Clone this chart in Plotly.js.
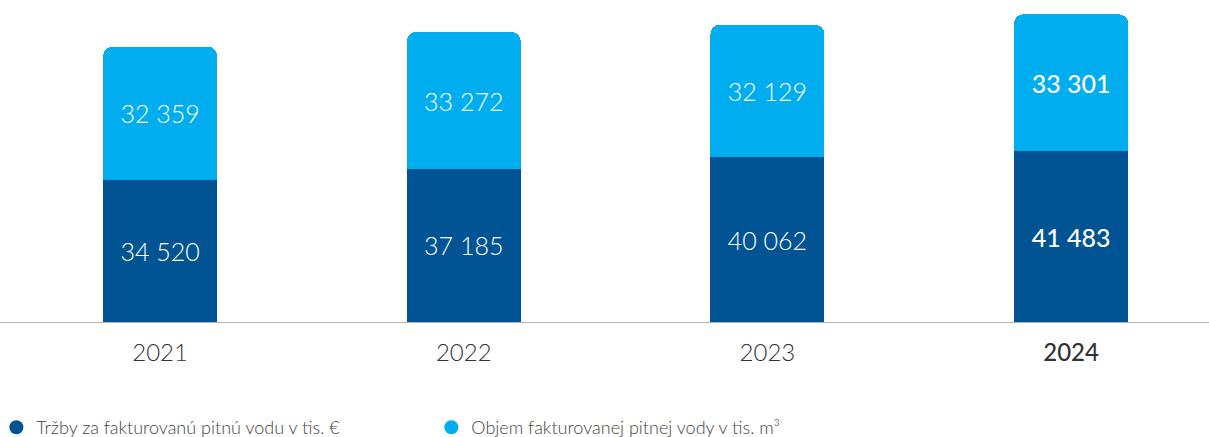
<!DOCTYPE html>
<html><head><meta charset="utf-8">
<script src="https://cdn.plot.ly/plotly-3.0.1.min.js"></script>
<style>html,body{margin:0;padding:0;background:#fff;}#chart{width:1209px;height:437px;}</style>
</head><body><div id="chart"></div>
<script>
const years = ["2021", "2022", "2023", "2024"];
const tickLabels = ["2021", "2022", "2023", "<span style='font-weight:500'>2024</span>"];
const revenue = [34520, 37185, 40062, 41483];      // Tržby za fakturovanú pitnú vodu v tis. €
const volume = [32359, 33272, 32129, 33301];       // Objem fakturovanej pitnej vody v tis. m³
const seriesNames = ["Tržby za fakturovanú pitnú vodu v tis. €", "Objem fakturovanej pitnej vody v tis. m³"];
const colors = ["#005494", "#00AEEF"];

const fmt = v => String(v).replace(/\B(?=(\d{3})+(?!\d))/g, " ");
const labelText = arr => arr.map((v, i) => i === arr.length - 1 ? "<span style='font-weight:500'>" + fmt(v) + "</span>" : fmt(v));
const xIdx = years.map((_, i) => i);
const FONT = "Lato, sans-serif";

const traces = [
  {type: "bar", x: xIdx, y: revenue, marker: {color: colors[0]}, width: 0.375,
   text: labelText(revenue), textposition: "inside", insidetextanchor: "middle",
   textfont: {color: "#ffffff", size: 25, family: FONT, weight: 300}, textangle: 0,
   hoverinfo: "skip", showlegend: false},
  {type: "bar", x: xIdx, y: volume, marker: {color: colors[1]}, width: 0.375,
   text: labelText(volume), textposition: "inside", insidetextanchor: "middle",
   textfont: {color: "#ffffff", size: 25, family: FONT, weight: 300}, textangle: 0,
   hoverinfo: "skip", showlegend: false},
  {type: "scatter", mode: "markers", x: [null], y: [null], name: seriesNames[0],
   marker: {color: colors[0], size: 14, symbol: "circle"}},
  {type: "scatter", mode: "markers", x: [null], y: [null], name: seriesNames[1],
   marker: {color: colors[1], size: 14, symbol: "circle"}}
];

const layout = {
  width: 1209, height: 437,
  margin: {l: 0, r: 0, t: 0, b: 115, autoexpand: false},
  paper_bgcolor: "#ffffff", plot_bgcolor: "#ffffff",
  barmode: "stack", barcornerradius: 9,
  font: {family: FONT, color: "#333333"},
  xaxis: {range: [-0.527, 3.454], tickmode: "array", tickvals: xIdx, ticktext: tickLabels,
          showgrid: false, zeroline: false, showline: true, linecolor: "#b3b3b3", linewidth: 1,
          ticks: "outside", ticklen: 9, tickcolor: "rgba(0,0,0,0)", automargin: false,
          tickfont: {size: 24, color: "#333333", family: FONT, weight: 300}, fixedrange: true},
  yaxis: {range: [0, 78250], visible: false, showgrid: false, zeroline: false, fixedrange: true},
  showlegend: true,
  legend: {orientation: "h", traceorder: "normal", x: -0.003, xanchor: "left",
           y: -0.328, yanchor: "middle",
           entrywidth: 390, entrywidthmode: "pixels",
           font: {size: 18, color: "#444444", family: FONT, weight: 300}, itemclick: false, itemdoubleclick: false}
};

Plotly.newPlot("chart", traces, layout, {displayModeBar: false, staticPlot: true});
</script></body></html>
